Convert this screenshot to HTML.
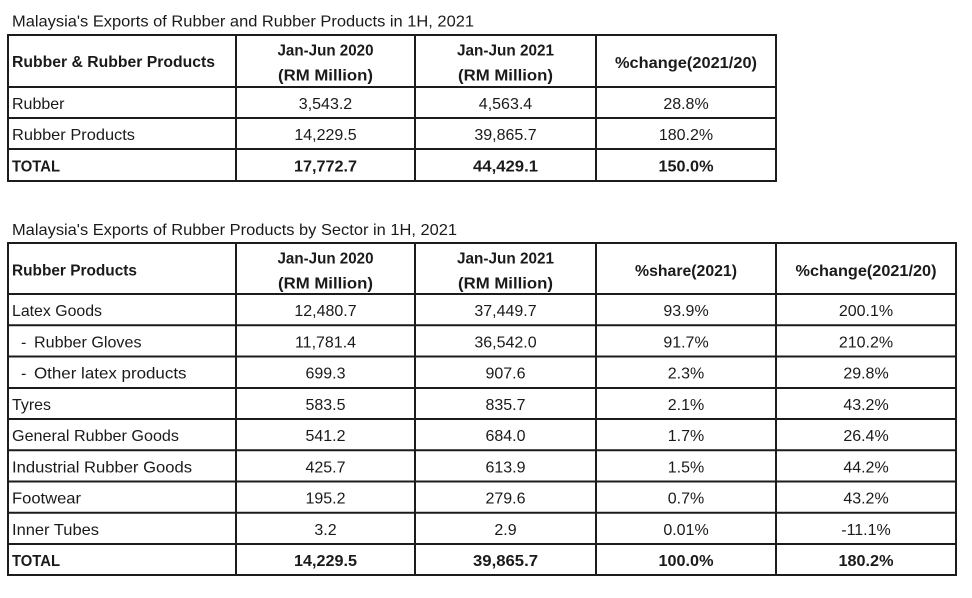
<!DOCTYPE html>
<html>
<head>
<meta charset="utf-8">
<style>
html,body{margin:0;padding:0;background:#fff;}
svg{display:block;}
text{font-family:"Liberation Sans",Arial,sans-serif;font-size:16px;fill:#1a1a1a;}
.b{font-weight:bold;}
.c{text-anchor:middle;}
line{stroke:#1c1c1c;stroke-width:2;}
</style>
</head>
<body>
<svg width="972" height="598" viewBox="0 0 972 598" xmlns="http://www.w3.org/2000/svg">
<rect width="972" height="598" fill="#fff"/>

<!-- Title 1 -->
<text x="12" y="26.5" textLength="462" lengthAdjust="spacingAndGlyphs">Malaysia's Exports of Rubber and Rubber Products in 1H, 2021</text>

<!-- Table 1 grid -->
<line x1="7" y1="35" x2="777" y2="35"/>
<line x1="7" y1="87" x2="777" y2="87"/>
<line x1="7" y1="118" x2="777" y2="118"/>
<line x1="7" y1="149" x2="777" y2="149"/>
<line x1="7" y1="181" x2="777" y2="181"/>
<line x1="8" y1="34" x2="8" y2="182"/>
<line x1="236" y1="34" x2="236" y2="182"/>
<line x1="415" y1="34" x2="415" y2="182"/>
<line x1="596" y1="34" x2="596" y2="182"/>
<line x1="776" y1="34" x2="776" y2="182"/>

<!-- Table 1 header -->
<text class="b" x="12" y="67" textLength="203" lengthAdjust="spacingAndGlyphs">Rubber &amp; Rubber Products</text>
<text class="b c" x="325.5" y="55.5" textLength="96" lengthAdjust="spacingAndGlyphs">Jan-Jun 2020</text>
<text class="b c" x="325.5" y="80.5" textLength="95" lengthAdjust="spacingAndGlyphs">(RM Million)</text>
<text class="b c" x="505.5" y="55.5" textLength="97" lengthAdjust="spacingAndGlyphs">Jan-Jun 2021</text>
<text class="b c" x="505.5" y="80.5" textLength="95" lengthAdjust="spacingAndGlyphs">(RM Million)</text>
<text class="b c" x="686" y="68" textLength="142" lengthAdjust="spacingAndGlyphs">%change(2021/20)</text>

<!-- Table 1 body -->
<text x="12" y="109">Rubber</text>
<text class="c" x="325.5" y="109">3,543.2</text>
<text class="c" x="505.5" y="109">4,563.4</text>
<text class="c" x="686" y="109">28.8%</text>

<text x="12" y="140" textLength="123" lengthAdjust="spacingAndGlyphs">Rubber Products</text>
<text class="c" x="325.5" y="140">14,229.5</text>
<text class="c" x="505.5" y="140">39,865.7</text>
<text class="c" x="686" y="140">180.2%</text>

<text class="b" x="12" y="171.5" textLength="48" lengthAdjust="spacingAndGlyphs">TOTAL</text>
<text class="b c" x="325.5" y="171.5" textLength="63" lengthAdjust="spacingAndGlyphs">17,772.7</text>
<text class="b c" x="505.5" y="171.5" textLength="65" lengthAdjust="spacingAndGlyphs">44,429.1</text>
<text class="b c" x="686" y="171.5" textLength="55" lengthAdjust="spacingAndGlyphs">150.0%</text>

<!-- Title 2 -->
<text x="12" y="235" textLength="445" lengthAdjust="spacingAndGlyphs">Malaysia's Exports of Rubber Products by Sector in 1H, 2021</text>

<!-- Table 2 grid -->
<line x1="7" y1="243" x2="957" y2="243"/>
<line x1="7" y1="294" x2="957" y2="294"/>
<line x1="7" y1="325.3" x2="957" y2="325.3"/>
<line x1="7" y1="356.5" x2="957" y2="356.5"/>
<line x1="7" y1="388" x2="957" y2="388"/>
<line x1="7" y1="419" x2="957" y2="419"/>
<line x1="7" y1="450.3" x2="957" y2="450.3"/>
<line x1="7" y1="481.5" x2="957" y2="481.5"/>
<line x1="7" y1="512.8" x2="957" y2="512.8"/>
<line x1="7" y1="544" x2="957" y2="544"/>
<line x1="7" y1="575" x2="957" y2="575"/>
<line x1="8" y1="242" x2="8" y2="576"/>
<line x1="236" y1="242" x2="236" y2="576"/>
<line x1="415" y1="242" x2="415" y2="576"/>
<line x1="596" y1="242" x2="596" y2="576"/>
<line x1="776" y1="242" x2="776" y2="576"/>
<line x1="956" y1="242" x2="956" y2="576"/>

<!-- Table 2 header -->
<text class="b" x="12" y="275.5" textLength="125" lengthAdjust="spacingAndGlyphs">Rubber Products</text>
<text class="b c" x="325.5" y="263.5" textLength="96" lengthAdjust="spacingAndGlyphs">Jan-Jun 2020</text>
<text class="b c" x="325.5" y="288.5" textLength="95" lengthAdjust="spacingAndGlyphs">(RM Million)</text>
<text class="b c" x="505.5" y="263.5" textLength="97" lengthAdjust="spacingAndGlyphs">Jan-Jun 2021</text>
<text class="b c" x="505.5" y="288.5" textLength="95" lengthAdjust="spacingAndGlyphs">(RM Million)</text>
<text class="b c" x="686" y="276" textLength="102" lengthAdjust="spacingAndGlyphs">%share(2021)</text>
<text class="b c" x="866" y="276" textLength="141" lengthAdjust="spacingAndGlyphs">%change(2021/20)</text>

<!-- Table 2 body -->
<text x="12" y="316" textLength="90" lengthAdjust="spacingAndGlyphs">Latex Goods</text>
<text class="c" x="325.5" y="316">12,480.7</text>
<text class="c" x="505.5" y="316">37,449.7</text>
<text class="c" x="686" y="316">93.9%</text>
<text class="c" x="866" y="316">200.1%</text>

<text x="21" y="347.3">-</text>
<text x="34" y="347.3" textLength="107.5" lengthAdjust="spacingAndGlyphs">Rubber Gloves</text>
<text class="c" x="325.5" y="347.3">11,781.4</text>
<text class="c" x="505.5" y="347.3">36,542.0</text>
<text class="c" x="686" y="347.3">91.7%</text>
<text class="c" x="866" y="347.3">210.2%</text>

<text x="21" y="378.6">-</text>
<text x="34" y="378.6" textLength="152.5" lengthAdjust="spacingAndGlyphs">Other latex products</text>
<text class="c" x="325.5" y="378.6">699.3</text>
<text class="c" x="505.5" y="378.6">907.6</text>
<text class="c" x="686" y="378.6">2.3%</text>
<text class="c" x="866" y="378.6">29.8%</text>

<text x="12" y="410" textLength="39" lengthAdjust="spacingAndGlyphs">Tyres</text>
<text class="c" x="325.5" y="410">583.5</text>
<text class="c" x="505.5" y="410">835.7</text>
<text class="c" x="686" y="410">2.1%</text>
<text class="c" x="866" y="410">43.2%</text>

<text x="12" y="441.2" textLength="167" lengthAdjust="spacingAndGlyphs">General Rubber Goods</text>
<text class="c" x="325.5" y="441.2">541.2</text>
<text class="c" x="505.5" y="441.2">684.0</text>
<text class="c" x="686" y="441.2">1.7%</text>
<text class="c" x="866" y="441.2">26.4%</text>

<text x="12" y="472.4" textLength="180" lengthAdjust="spacingAndGlyphs">Industrial Rubber Goods</text>
<text class="c" x="325.5" y="472.4">425.7</text>
<text class="c" x="505.5" y="472.4">613.9</text>
<text class="c" x="686" y="472.4">1.5%</text>
<text class="c" x="866" y="472.4">44.2%</text>

<text x="12" y="503.7" textLength="69" lengthAdjust="spacingAndGlyphs">Footwear</text>
<text class="c" x="325.5" y="503.7">195.2</text>
<text class="c" x="505.5" y="503.7">279.6</text>
<text class="c" x="686" y="503.7">0.7%</text>
<text class="c" x="866" y="503.7">43.2%</text>

<text x="12" y="535" textLength="87" lengthAdjust="spacingAndGlyphs">Inner Tubes</text>
<text class="c" x="325.5" y="535">3.2</text>
<text class="c" x="505.5" y="535">2.9</text>
<text class="c" x="686" y="535">0.01%</text>
<text class="c" x="866" y="535">-11.1%</text>

<text class="b" x="12" y="566" textLength="48" lengthAdjust="spacingAndGlyphs">TOTAL</text>
<text class="b c" x="325.5" y="566" textLength="63" lengthAdjust="spacingAndGlyphs">14,229.5</text>
<text class="b c" x="505.5" y="566" textLength="65" lengthAdjust="spacingAndGlyphs">39,865.7</text>
<text class="b c" x="686" y="566" textLength="55" lengthAdjust="spacingAndGlyphs">100.0%</text>
<text class="b c" x="866" y="566" textLength="55" lengthAdjust="spacingAndGlyphs">180.2%</text>
</svg>
</body>
</html>
